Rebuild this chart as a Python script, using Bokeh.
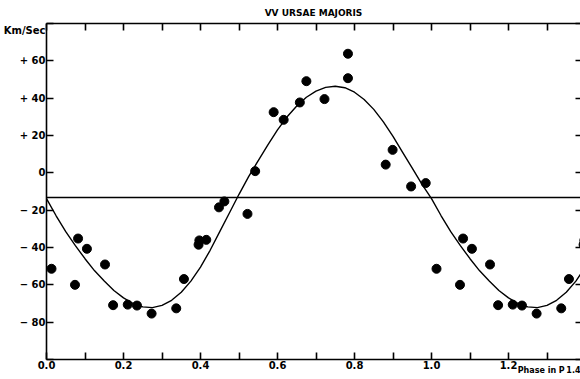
from bokeh.plotting import figure
from bokeh.models import LinearAxis, FixedTicker, Span, Range1d
from bokeh.embed import file_html
from bokeh.resources import INLINE

# Observed radial velocities (phase in P, km/s), one cycle
phase = [0.013, 0.074, 0.082, 0.105, 0.152, 0.173, 0.211, 0.235, 0.273, 0.337,
         0.357, 0.395, 0.397, 0.415, 0.448, 0.462, 0.522, 0.542, 0.590, 0.616,
         0.658, 0.675, 0.722, 0.783, 0.783, 0.881, 0.899, 0.947, 0.985]
velocity = [-51.4, -60.0, -35.2, -40.7, -49.1, -70.9, -70.6, -71.1, -75.4, -72.6,
            -56.9, -38.5, -36.2, -35.9, -18.5, -15.3, -22.0, 0.9, 32.5, 28.4,
            37.7, 49.1, 39.5, 63.8, 50.7, 4.4, 12.3, -7.3, -5.5]

# Velocity curve, one cycle
curve_phase = [0.000, 0.025, 0.050, 0.075, 0.100, 0.125, 0.150, 0.175, 0.200, 0.225,
               0.250, 0.275, 0.300, 0.325, 0.350, 0.375, 0.400, 0.425, 0.450, 0.475,
               0.500, 0.525, 0.550, 0.575, 0.600, 0.625, 0.650, 0.675, 0.700, 0.725,
               0.750, 0.775, 0.800, 0.825, 0.850, 0.875, 0.900, 0.925, 0.950, 0.975,
               1.000]
curve_velocity = [-13.8, -23.0, -31.5, -39.0, -46.0, -52.5, -58.0, -63.0, -67.0, -70.0,
                  -71.8, -72.2, -71.0, -68.3, -64.0, -58.0, -50.5, -41.5, -31.5, -21.5,
                  -11.5, -2.0, 6.5, 15.0, 23.0, 30.0, 35.8, 40.5, 43.8, 45.8,
                  46.4, 45.6, 43.2, 39.3, 34.0, 27.3, 19.5, 11.0, 2.5, -6.0,
                  -13.8]

gamma_velocity = -13.2
repeat_until = 0.4

title_text = "VV URSAE MAJORIS"

x_ticks = [0.0, 0.1, 0.2, 0.3, 0.4, 0.5, 0.6, 0.7, 0.8, 0.9, 1.0, 1.1, 1.2, 1.3]
x_label_ticks = [0.0, 0.2, 0.4, 0.6, 0.8, 1.0, 1.2]
x_label_texts = ["0.0", "0.2", "0.4", "0.6", "0.8", "1.0", "1.2"]
x_extra_ticks = [1.285, 1.386]
x_extra_texts = ["Phase in P", "1.4"]

y_ticks = [-100, -80, -60, -40, -20, 0, 20, 40, 60, 80]
y_label_ticks = [-80, -60, -40, -20, 0, 20, 40, 60, 76]
y_label_texts = ["\u2212 80", "\u2212 60", "\u2212 40", "\u2212 20", "0", "+ 20", "+ 40", "+ 60", "Km/Sec"]

# extend over the second cycle (phase + 1)
px = phase + [ph + 1 for ph in phase if ph <= repeat_until]
pv = velocity + [v for ph, v in zip(phase, velocity) if ph <= repeat_until]
cx = curve_phase + [ph + 1 for ph in curve_phase if 0 < ph <= repeat_until]
cv = curve_velocity + [v for ph, v in zip(curve_phase, curve_velocity) if 0 < ph <= repeat_until]

FONT = "DejaVu Sans"

p = figure(width=580, height=379, x_range=Range1d(0, 1.387), y_range=Range1d(-100, 80),
           output_backend="svg", toolbar_location=None, title=None,
           min_border_left=46, min_border_right=0, min_border_top=23, min_border_bottom=20,
           background_fill_color="white", border_fill_color="white")
p.outline_line_color = None
p.xgrid.visible = False
p.ygrid.visible = False


def tick_axis(ax, ticks, tick_len=7, line=True):
    """Axis that draws only its line and inward ticks."""
    ax.ticker = FixedTicker(ticks=ticks)
    ax.axis_line_color = "black" if line else None
    ax.axis_line_width = 1.6
    ax.major_tick_line_color = "black"
    ax.major_tick_line_width = 1.6
    ax.major_tick_in = tick_len
    ax.major_tick_out = 0
    ax.minor_tick_line_color = None
    ax.major_label_overrides = {t: "" for t in ticks}
    ax.major_label_text_font_size = "0px"
    ax.major_label_standoff = 0


def label_axis(ax, ticks, texts, size, standoff):
    """Axis that draws only its tick labels."""
    ax.ticker = FixedTicker(ticks=ticks)
    ax.axis_line_color = None
    ax.major_tick_line_color = None
    ax.minor_tick_line_color = None
    ax.major_tick_in = 0
    ax.major_tick_out = 0
    ax.major_label_overrides = {t: s for t, s in zip(ticks, texts)}
    ax.major_label_text_font = FONT
    ax.major_label_text_font_style = "bold"
    ax.major_label_text_font_size = size
    ax.major_label_text_color = "black"
    ax.major_label_standoff = standoff


# bottom: ticks, numbers, then the axis title
tick_axis(p.xaxis[0], x_ticks)
xl = LinearAxis()
label_axis(xl, x_label_ticks, x_label_texts, "10px", 1)
p.add_layout(xl, "below")
xt = LinearAxis()
label_axis(xt, x_extra_ticks, x_extra_texts, "8px", -6)
p.add_layout(xt, "below")

# left: ticks, then labels
tick_axis(p.yaxis[0], y_ticks)
yl = LinearAxis()
label_axis(yl, y_label_ticks, y_label_texts, "10px", 1)
p.add_layout(yl, "left")

# top: ticks and the title as axis label
top = LinearAxis()
tick_axis(top, x_ticks)
top.axis_label = title_text
top.axis_label_text_font = FONT
top.axis_label_text_font_style = "bold"
top.axis_label_text_font_size = "9px"
top.axis_label_text_color = "black"
top.axis_label_standoff = 6
p.add_layout(top, "above")

# right: ticks only
right = LinearAxis()
tick_axis(right, y_ticks, tick_len=5, line=False)
p.add_layout(right, "right")

p.add_layout(Span(location=gamma_velocity, dimension="width", line_color="black", line_width=1.4))

p.line(cx, cv, line_color="black", line_width=1.4)
p.scatter(px, pv, size=9, fill_color="black", line_color="black")

open("out.html", "w").write(file_html(p, INLINE))
